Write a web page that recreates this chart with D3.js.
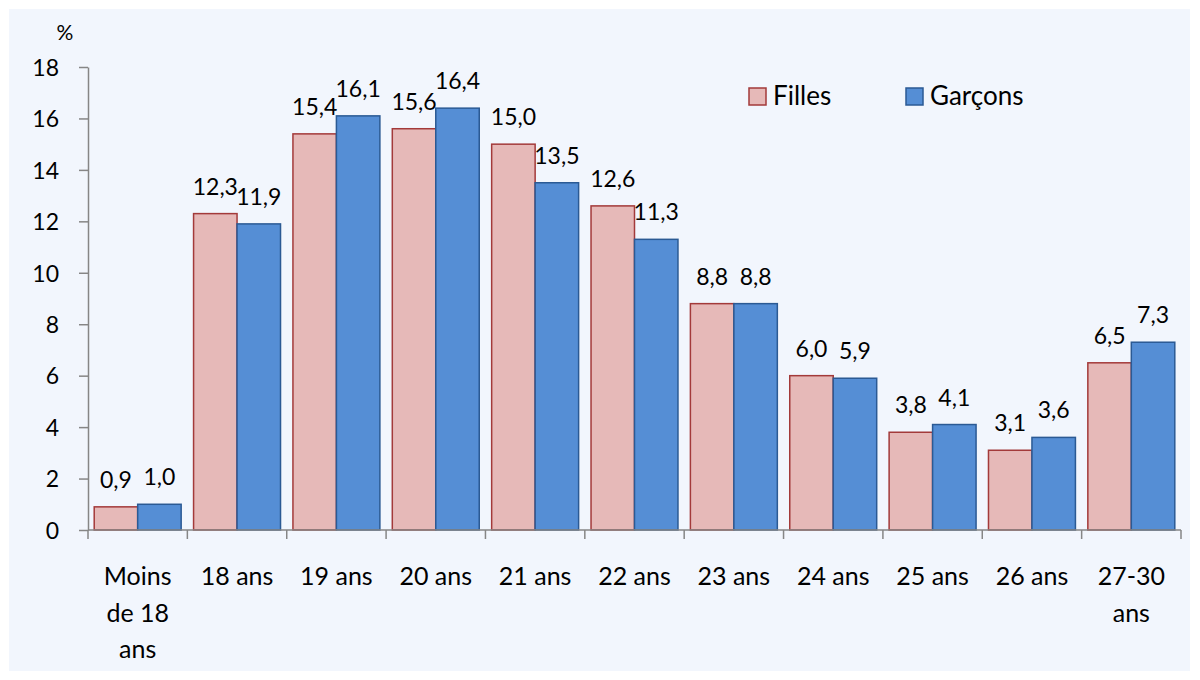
<!DOCTYPE html>
<html><head><meta charset="utf-8">
<script src="https://cdn.jsdelivr.net/npm/d3@7"></script>
<style>
html,body{margin:0;padding:0;background:#fff;}
text{font-family:Lato,"Open Sans",sans-serif;fill:#000;}
</style></head>
<body><svg id="c" width="1200" height="680"></svg>
<script>
const categories = [["Moins","de 18","ans"],["18 ans"],["19 ans"],["20 ans"],["21 ans"],["22 ans"],["23 ans"],["24 ans"],["25 ans"],["26 ans"],["27-30","ans"]];
const catKeys = categories.map(d => d.join(" "));
const filles = [0.9, 12.3, 15.4, 15.6, 15.0, 12.6, 8.8, 6.0, 3.8, 3.1, 6.5];
const garcons = [1.0, 11.9, 16.1, 16.4, 13.5, 11.3, 8.8, 5.9, 4.1, 3.6, 7.3];
const seriesNames = ["Filles", "Garçons"];
const yTicks = [0,2,4,6,8,10,12,14,16,18];

const svg = d3.select("#c");
svg.append("rect").attr("x",9).attr("y",9).attr("width",1181).attr("height",662).attr("fill","#F2F6FD");

const m = {l:88, r:1181, t:67, b:530};
const x = d3.scaleBand().domain(catKeys).range([m.l, m.r]).paddingInner(0.125).paddingOuter(0.0625);
const xs = d3.scaleBand().domain(seriesNames).range([0, x.bandwidth()]);
const y = d3.scaleLinear().domain([0,18]).range([m.b, m.t]);

const fills = {Filles:"#E6B9B8", "Garçons":"#558ED5"};
const strokes = {Filles:"#A33A3A", "Garçons":"#2B5A94"};
const fmt = v => v.toFixed(1).replace(".", ",");

// y axis
const yAxis = svg.append("g").attr("transform",`translate(${m.l},0)`)
  .call(d3.axisLeft(y).tickValues(yTicks).tickSize(9).tickSizeOuter(0).tickPadding(20));
yAxis.select(".domain").attr("stroke","#868686").attr("stroke-width",1.5);
yAxis.selectAll(".tick line").attr("stroke","#868686").attr("stroke-width",1.5);
yAxis.selectAll(".tick text").attr("font-size",23).attr("font-family","Lato").attr("fill","#000").attr("dy","0.36em");

svg.append("text").attr("x",65).attr("y",40).attr("text-anchor","middle").attr("font-size",21).text("%");

// bars
const groups = svg.append("g").selectAll("g").data(catKeys).join("g")
  .attr("transform", d => `translate(${x(d)},0)`);
const rows = catKeys.map((k,i) => [{s:"Filles",v:filles[i]},{s:"Garçons",v:garcons[i]}]);
groups.each(function(k,i){
  const g = d3.select(this);
  g.selectAll("rect").data(rows[i]).join("rect")
    .attr("x", d => xs(d.s)).attr("width", xs.bandwidth())
    .attr("y", d => y(d.v)).attr("height", d => y(0)-y(d.v))
    .attr("fill", d => fills[d.s]).attr("stroke", d => strokes[d.s]).attr("stroke-width",1.5);
  g.selectAll("text.v").data(rows[i]).join("text").attr("class","v")
    .attr("x", d => xs(d.s)+xs.bandwidth()/2).attr("y", d => y(d.v)-19)
    .attr("text-anchor","middle").attr("font-size",23).text(d => fmt(d.v));
});

// x axis
svg.append("line").attr("x1",m.l).attr("x2",m.r).attr("y1",m.b).attr("y2",m.b).attr("stroke","#868686").attr("stroke-width",1.5);
const bounds = catKeys.map(k => x(k) - x.step()*x.paddingInner()/2).concat([m.r]);
svg.append("g").selectAll("line").data(bounds).join("line")
  .attr("x1", d=>d).attr("x2", d=>d).attr("y1", m.b).attr("y2", m.b+9)
  .attr("stroke","#868686").attr("stroke-width",1.5);
categories.forEach((lines,i) => {
  const cx = x(catKeys[i]) + x.bandwidth()/2;
  const t = svg.append("text").attr("text-anchor","middle").attr("font-size",25);
  lines.forEach((ln,j) => t.append("tspan").attr("x",cx).attr("y",585+j*36.5).text(ln));
});

// legend
const leg = svg.append("g");
const legX = [749, 906];
seriesNames.forEach((s,i) => {
  leg.append("rect").attr("x",legX[i]).attr("y",88).attr("width",17).attr("height",17)
    .attr("fill",fills[s]).attr("stroke",strokes[s]).attr("stroke-width",1.5);
  leg.append("text").attr("x",legX[i]+24).attr("y",105).attr("font-size",26).text(s);
});
</script></body></html>
